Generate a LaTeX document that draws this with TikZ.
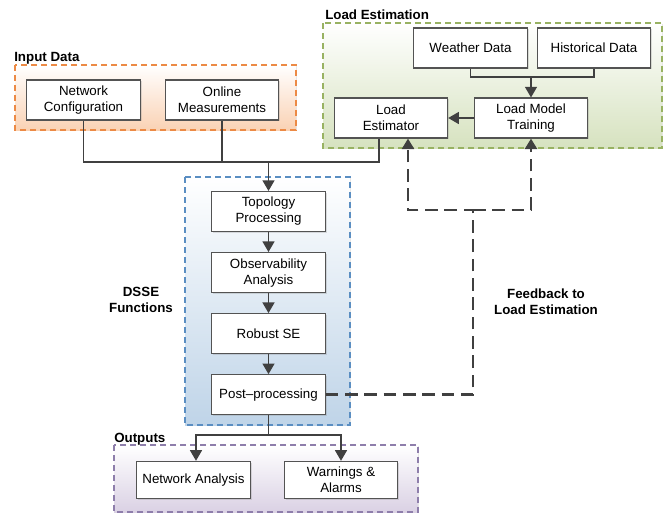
\documentclass[tikz,border=0pt]{standalone}
\usepackage{fontspec}
\setmainfont{Liberation Sans}
\usepackage{tikz}
\usetikzlibrary{calc,positioning,shadows,arrows.meta}

\definecolor{linegray}{HTML}{404040}
\definecolor{inedge}{HTML}{EC8A45}
\definecolor{infill}{HTML}{FAD2B4}
\definecolor{leedge}{HTML}{98B262}
\definecolor{lefill}{HTML}{D6E2BF}
\definecolor{dsedge}{HTML}{5A8EC2}
\definecolor{dsfill}{HTML}{BFD4E8}
\definecolor{outedge}{HTML}{8E7EAB}
\definecolor{outfill}{HTML}{DAD1E4}

\tikzset{
	blk/.style={draw=linegray!90,line width=0.8pt,fill=white,align=center,
		minimum width=85pt,minimum height=30pt,inner sep=2pt,font=\normalsize,
		drop shadow={shadow xshift=1pt,shadow yshift=-1pt,opacity=0.25}},
	grp/.style={line width=0.8pt,dash pattern=on 4.5pt off 3pt,
		drop shadow={shadow xshift=1pt,shadow yshift=-1pt,opacity=0.2}},
	grplab/.style={font=\normalsize\bfseries,anchor=base west,inner sep=0pt},
	line/.style={draw=linegray,line width=1.1pt},
	arr/.style={line,-{Triangle[length=8pt,width=9pt]}},
	fbk/.style={draw=linegray,line width=2pt,dash pattern=on 9.5pt off 5pt,
		-{Triangle[length=8pt,width=9pt]}}
}

\begin{document}
\begin{tikzpicture}[x=0.75pt,y=-0.75pt]
	\useasboundingbox (0,0) rectangle (668,514);
	% group backgrounds
	\path[grp,draw=inedge,top color=white,bottom color=infill] (15,65) rectangle (296,130);
	\path[grp,draw=leedge,top color=white,bottom color=lefill] (323,23) rectangle (662,148);
	\path[grp,draw=dsedge,top color=white,bottom color=dsfill] (185,177) rectangle (350,425);
	\path[grp,draw=outedge,top color=white,bottom color=outfill] (114,445) rectangle (418,512);
	\node[grplab] (inlab) at (14,61) {Input Data};
	\node[grplab] (lelab) at (325,19) {Load Estimation};
	\node[grplab] (outlab) at (114,442) {Outputs};
	\node[font=\normalsize\bfseries,align=center] (dslab) at (141,300) {DSSE\\Functions};
	\node[font=\normalsize\bfseries,align=center] (fblab) at (546,302) {Feedback to\\Load Estimation};

	% input data
	\node[blk] (nc) at (83.5,100) {Network\\Configuration};
	\node[blk] (om) at (222,100) {Online\\Measurements};
	% load estimation
	\node[blk] (wd) at (470.5,48) {Weather Data};
	\node[blk] (hd) at (594,48) {Historical Data};
	\node[blk] (lmt) at (531,118) {Load Model\\Training};
	\node[blk] (le) at (391,118) {Load\\Estimator};
	% dsse functions
	\node[blk] (tp) at (268.5,211.5) {Topology\\Processing};
	\node[blk,below=15pt of tp] (oa) {Observability\\Analysis};
	\node[blk,below=15pt of oa] (rse) {Robust SE};
	\node[blk,below=15pt of rse] (pp) {Post--processing};
	% outputs
	\node[blk,minimum height=28pt] (na) at (193.5,480) {Network Analysis};
	\node[blk,minimum height=28pt] (wa) at (341,480) {Warnings \&\\Alarms};

	\coordinate (jn) at (268.5,162);
	\coordinate (wj) at (531,77);
	\coordinate (oj) at (268.5,435);
	\coordinate (fb) at (473,210);

	\draw[line] (nc.south) |- (jn) -| ($(le.south)+(-12,0)$);
	\draw[line] (om.south) -- (om.south |- jn);
	\draw[arr] (jn) -- (tp.north);
	\draw[line] (wd.south) |- (wj) -| (hd.south);
	\draw[arr] (wj) -- (lmt.north);
	\draw[arr] (lmt.west) -- (le.east);
	\draw[arr] (tp) -- (oa);
	\draw[arr] (oa) -- (rse);
	\draw[arr] (rse) -- (pp);
	\draw[line] (pp.south) -- (oj);
	\draw[arr] (oj) -| ($(na.north)+(2.5,0)$);
	\draw[arr] (oj) -| (wa.north);
	\draw[fbk] (pp.east) -| (fb) -| ($(le.south)+(17,0)$);
	\draw[fbk] (fb) -| (lmt.south);
\end{tikzpicture}
\end{document}
